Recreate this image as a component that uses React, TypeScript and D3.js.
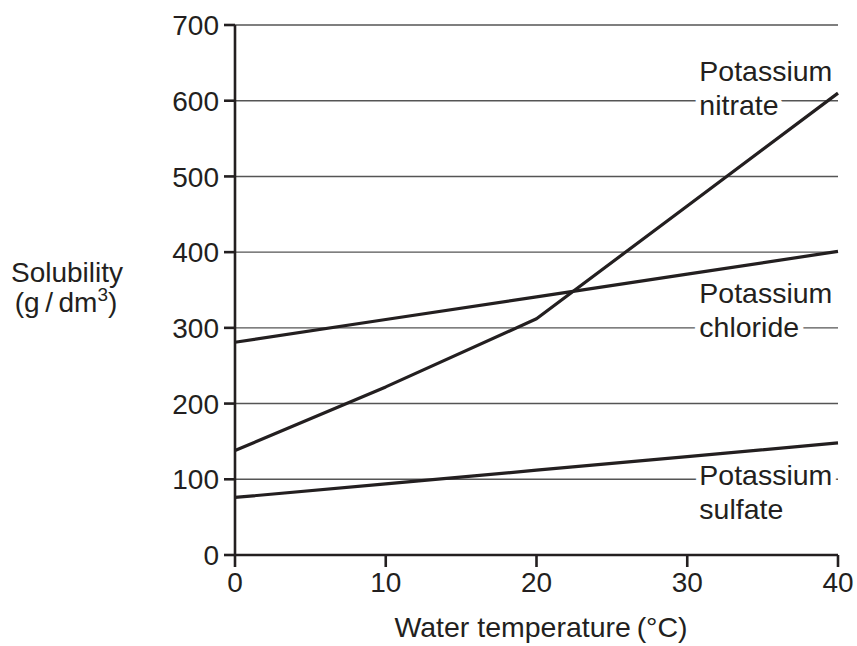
import * as d3 from 'd3';

const temps = [0, 10, 20, 30, 40];
const nitrate = [138, 222, 312, 461, 610];
const chloride = [281, 311, 341, 371, 401];
const sulfate = [76, 94, 112, 130, 148];
const xTicks = [0, 10, 20, 30, 40];
const yTicks = [0, 100, 200, 300, 400, 500, 600, 700];

const labels = [
  { lines: ['Potassium', 'nitrate'], x: 30.8, y: 626 },
  { lines: ['Potassium', 'chloride'], x: 30.8, y: 333 },
  { lines: ['Potassium', 'sulfate'], x: 30.8, y: 92.5 },
];

const W = 857;
const H = 646;
const FONT = '"Liberation Sans", Arial, Helvetica, sans-serif';
const INK = '#231f20';

export default function App() {
  const x = d3.scaleLinear().domain([0, 40]).range([235, 838]);
  const y = d3.scaleLinear().domain([0, 700]).range([555, 25]);

  const line = d3
    .line<number>()
    .x((_, i) => x(temps[i]))
    .y((d) => y(d));

  const series = [nitrate, chloride, sulfate];

  return (
    <div style={{ position: 'absolute', left: 0, top: 0 }}>
      <svg width={W} height={H} style={{ display: 'block', background: '#fff' }} fontFamily={FONT}>
        {/* gridlines */}
        {yTicks.filter((t) => t > 0).map((t) => (
          <line
            key={t}
            x1={x(0)}
            x2={x(40)}
            y1={y(t)}
            y2={y(t)}
            stroke="#555"
            strokeWidth={1.4}
          />
        ))}

        {/* curve labels, with a white halo breaking the gridlines */}
        {labels.map((l, i) => (
          <text
            key={i}
            fontSize={28.5}
            fill={INK}
            stroke="#fff"
            strokeWidth={11}
            strokeLinejoin="round"
            paintOrder="stroke"
          >
            {l.lines.map((s, j) => (
              <tspan key={j} x={x(l.x)} y={y(l.y) + j * 34}>
                {s}
              </tspan>
            ))}
          </text>
        ))}

        {/* axes */}
        <line x1={x(0)} x2={x(0)} y1={y(700)} y2={y(0)} stroke={INK} strokeWidth={2.6} />
        <line x1={x(0)} x2={x(40)} y1={y(0)} y2={y(0)} stroke={INK} strokeWidth={2.6} />
        {yTicks.map((t) => (
          <g key={t} transform={`translate(${x(0)},${y(t)})`}>
            <line x1={-11} x2={0} stroke={INK} strokeWidth={2.6} />
            <text x={-16} dy="0.36em" textAnchor="end" fontSize={28} fill={INK}>
              {t}
            </text>
          </g>
        ))}
        {xTicks.map((t) => (
          <g key={t} transform={`translate(${x(t)},${y(0)})`}>
            <line y1={0} y2={12} stroke={INK} strokeWidth={2.6} />
            <text y={37} textAnchor="middle" fontSize={28} fill={INK}>
              {t}
            </text>
          </g>
        ))}

        {/* curves */}
        {series.map((s, i) => (
          <path key={i} d={line(s) || ''} fill="none" stroke={INK} strokeWidth={3.2} strokeLinejoin="round" />
        ))}

        {/* axis titles */}
        <text x={67} y={282} textAnchor="middle" fontSize={28} fill={INK}>
          Solubility
        </text>
        <text x={66} y={312} textAnchor="middle" fontSize={28} fill={INK}>
          {'(g\u2009/\u2009dm'}
          <tspan fontSize={19} dy={-11}>3</tspan>
          <tspan dy={11}>)</tspan>
        </text>
        <text x={541} y={637} textAnchor="middle" fontSize={28.5} fill={INK}>
          {'Water temperature\u2009(°C)'}
        </text>
      </svg>
    </div>
  );
}
